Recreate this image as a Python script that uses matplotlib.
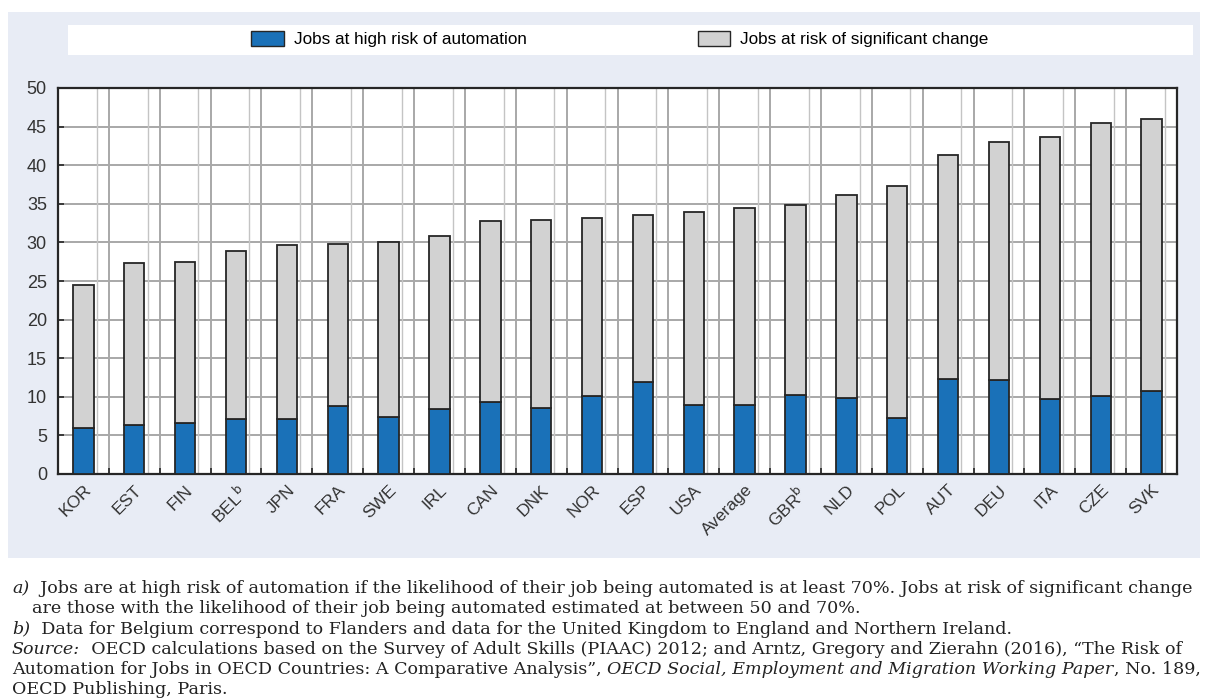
import numpy as np
import matplotlib
matplotlib.use("Agg")
import matplotlib.pyplot as plt
from matplotlib.patches import Rectangle, Patch

# Data (% of jobs)
countries = ["KOR", "EST", "FIN", r"BEL$^\mathrm{b}$", "JPN", "FRA", "SWE", "IRL", "CAN", "DNK", "NOR",
             "ESP", "USA", "Average", r"GBR$^\mathrm{b}$", "NLD", "POL", "AUT", "DEU", "ITA", "CZE", "SVK"]
high_risk = [6.0, 6.3, 6.6, 7.1, 7.1, 8.8, 7.4, 8.4, 9.3, 8.6, 10.1,
             11.9, 9.0, 9.0, 10.2, 9.8, 7.3, 12.3, 12.2, 9.7, 10.1, 10.8]
sig_change = [18.5, 21.0, 20.9, 21.8, 22.5, 21.0, 22.6, 22.4, 23.5, 24.3, 23.0,
              21.6, 24.9, 25.5, 24.7, 26.4, 30.0, 29.0, 30.8, 33.9, 35.4, 35.2]
y_ticks = [0, 5, 10, 15, 20, 25, 30, 35, 40, 45, 50]

BLUE = '#1a71b8'
GREY = '#d2d2d2'
EDGE = '#262626'
PANEL = '#e8ecf5'
GRID = '#a8a8a8'

sans = ['Liberation Sans Narrow', 'Liberation Sans', 'DejaVu Sans']
serif = ['DejaVu Serif']

W, H = 1206, 699
fig = plt.figure(figsize=(W / 100, H / 100), dpi=100)
fig.patch.set_facecolor('white')

# light panel behind chart + white legend band
fig.add_artist(Rectangle((8 / W, 1 - 558 / H), 1192 / W, 546 / H, transform=fig.transFigure,
                         facecolor=PANEL, edgecolor='none', zorder=0))
fig.add_artist(Rectangle((68 / W, 1 - 55 / H), 1125 / W, 30 / H, transform=fig.transFigure,
                         facecolor='white', edgecolor='none', zorder=0))

left, right, top, bottom = 58, 1177, 88, 474
ax = fig.add_axes([left / W, 1 - bottom / H, (right - left) / W, (bottom - top) / H])
ax.set_facecolor('white')

x = np.arange(len(countries))
bw = 0.4
ax.bar(x, high_risk, bw, color=BLUE, edgecolor=EDGE, linewidth=1.3, zorder=3)
ax.bar(x, sig_change, bw, bottom=high_risk, color=GREY, edgecolor=EDGE, linewidth=1.3, zorder=3)

ax.set_xlim(-0.5, len(countries) - 0.5)
ax.set_ylim(0, 50)
ax.set_yticks(y_ticks)
ax.set_yticklabels([str(t) for t in y_ticks], family=sans, fontsize=13, color='#333333')
ax.set_xticks(x)
ax.set_xticklabels(countries, rotation=45, ha='right', rotation_mode='anchor',
                   family=sans, fontsize=12.5, color='#333333')
ax.set_xticks(x[:-1] + 0.5, minor=True)

ax.tick_params(axis='x', which='major', length=0, pad=6)
ax.tick_params(axis='x', which='minor', length=4, width=1.2, direction='in', color=EDGE)
ax.tick_params(axis='y', length=4, width=1.2, direction='in', color=EDGE, pad=8)

ax.set_axisbelow(True)
ax.yaxis.grid(True, color=GRID, linewidth=1.4)
ax.xaxis.grid(True, which='minor', color=GRID, linewidth=1.4)
ax.vlines(x + bw / 2 + 0.06, 0, 50, color='#c4c4c4', linewidth=1.0, zorder=1)

for s in ax.spines.values():
    s.set_color(EDGE)
    s.set_linewidth(1.6)

handles = [Patch(facecolor=BLUE, edgecolor=EDGE, linewidth=1.0, label='Jobs at high risk of automation'),
           Patch(facecolor=GREY, edgecolor=EDGE, linewidth=1.0, label='Jobs at risk of significant change')]
fig.legend(handles=handles, loc='center', bbox_to_anchor=(620 / W, 1 - 39 / H), ncol=2,
           frameon=False, prop={'family': sans, 'size': 12.3}, handlelength=1.9, handleheight=1.0,
           columnspacing=10.0, handletextpad=0.6)

# footnotes, built piece by piece so italic parts can be mixed in
fs = 12.6
line_h = 20.3


def chain(y, parts, x0=12):
    prev = None
    for txt, style in parts:
        if prev is None:
            prev = fig.text(x0 / W, 1 - y / H, txt, family=serif, fontsize=fs, style=style,
                            color='#222222', va='bottom', ha='left')
        else:
            prev = ax.annotate(txt, xy=(1, 0), xycoords=prev, va='bottom', ha='left',
                               family=serif, fontsize=fs, style=style, color='#222222',
                               annotation_clip=False)


y0 = 597
chain(y0, [("a)", 'italic'), ("  Jobs are at high risk of automation if the likelihood of their job being automated is at least 70%. "
                              "Jobs at risk of significant change", 'normal')])
chain(y0 + line_h, [("are those with the likelihood of their job being automated estimated at between 50 and 70%.", 'normal')], x0=32)
chain(y0 + 2 * line_h, [("b)", 'italic'), ("  Data for Belgium correspond to Flanders and data for the United Kingdom to England and Northern Ireland.", 'normal')])
chain(y0 + 3 * line_h, [("Source:", 'italic'), ("  OECD calculations based on the Survey of Adult Skills (PIAAC) 2012; and Arntz, Gregory and Zierahn (2016), \u201cThe Risk of", 'normal')])
chain(y0 + 4 * line_h, [("Automation for Jobs in OECD Countries: A Comparative Analysis\u201d, ", 'normal'),
                        ("OECD Social, Employment and Migration Working Paper", 'italic'),
                        (", No. 189,", 'normal')])
chain(y0 + 5 * line_h, [("OECD Publishing, Paris.", 'normal')])

fig.savefig('out.png', dpi=100, facecolor='white')
